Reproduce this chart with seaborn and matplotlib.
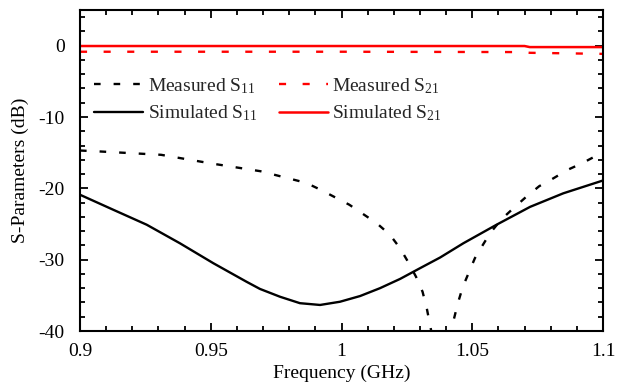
import matplotlib
matplotlib.use("Agg")
import matplotlib.pyplot as plt
import seaborn as sns
import pandas as pd
from matplotlib.ticker import MultipleLocator

# ---- data ----
sim_s11_freq = [0.900, 0.9127, 0.9255, 0.9382, 0.9510, 0.9637, 0.9688, 0.9765, 0.9841,
                0.9918, 0.9994, 1.0071, 1.0147, 1.0224, 1.0300, 1.0377, 1.0466, 1.0593,
                1.0721, 1.0848, 1.100]
sim_s11_db = [-20.9, -23.0, -25.1, -27.7, -30.5, -33.1, -34.1, -35.2, -36.1,
              -36.35, -35.9, -35.1, -34.0, -32.7, -31.2, -29.7, -27.7, -25.1,
              -22.6, -20.7, -18.9]

meas_s11_freq = [0.900, 0.906, 0.931, 0.950, 0.969, 0.984, 0.988, 0.992, 1.003, 1.0135,
                 1.0185, 1.0224, 1.0256, 1.0285, 1.031, 1.0326, 1.034, 1.038, 1.0426,
                 1.0445, 1.0464, 1.051, 1.0536, 1.0568, 1.061, 1.0657, 1.0706, 1.0756,
                 1.081, 1.0865, 1.0919, 1.0976, 1.100]
meas_s11_db = [-14.7, -14.8, -15.3, -16.5, -17.6, -19.0, -19.5, -20.2, -22.3, -24.9,
               -26.5, -28.4, -30.4, -32.4, -34.5, -36.8, -39.4, -47.0, -38.9,
               -36.1, -33.8, -29.8, -28.2, -26.3, -24.4, -22.8, -21.2, -19.7,
               -18.6, -17.4, -16.5, -15.4, -15.1]

meas_s21_freq = [0.900, 1.000, 1.070, 1.072, 1.100]
meas_s21_db = [-0.85, -0.85, -0.9, -1.0, -1.15]

sim_s21_freq = [0.900, 1.070, 1.072, 1.100]
sim_s21_db = [-0.05, -0.05, -0.2, -0.2]

labels = ["Measured S$_{\\mathregular{11}}$", "Simulated S$_{\\mathregular{11}}$",
          "Measured S$_{\\mathregular{21}}$", "Simulated S$_{\\mathregular{21}}$"]

# ---- style ----
sns.set_theme(style="ticks")
plt.rcParams["font.family"] = ["Liberation Serif", "DejaVu Serif"]
plt.rcParams["mathtext.fontset"] = "custom"
plt.rcParams["mathtext.rm"] = "Liberation Serif"
plt.rcParams["mathtext.it"] = "Liberation Serif:italic"

fig = plt.figure(figsize=(6.24, 3.83), dpi=100)
ax = fig.add_axes([80 / 624, 1 - 331 / 383, (603 - 80) / 624, (331 - 10) / 383])

def draw(freq, db, color, dashes, label, lw):
    df = pd.DataFrame({"f": freq, "db": db})
    sns.lineplot(data=df, x="f", y="db", ax=ax, color=color, linewidth=lw,
                 label=label, sort=False, estimator=None)
    line = ax.lines[-1]
    if dashes is not None:
        line.set_dashes(dashes)
    return line

l1 = draw(meas_s11_freq, meas_s11_db, "black", (2.8, 5.5), labels[0], 1.7)
l2 = draw(sim_s11_freq, sim_s11_db, "black", None, labels[1], 1.7)
l3 = draw(meas_s21_freq, meas_s21_db, "#ff0000", (3.0, 7.0), labels[2], 1.7)
l4 = draw(sim_s21_freq, sim_s21_db, "#ff0000", None, labels[3], 1.8)

ax.set_xlim(0.9, 1.1)
ax.set_ylim(-40, 5)
ax.xaxis.set_minor_locator(MultipleLocator(0.01))
ax.yaxis.set_minor_locator(MultipleLocator(2))
ax.set_xticks([0.9, 0.95, 1.0, 1.05, 1.1])
ax.set_xticklabels(["0.9", "0.95", "1", "1.05", "1.1"])
ax.set_yticks([-40, -30, -20, -10, 0])
ax.set_yticklabels(["-40", "-30", "-20", "-10", "0"])

ax.tick_params(which="both", direction="in", top=True, right=True, colors="black",
               labelsize=14, width=1.3)
ax.tick_params(which="major", length=6)
ax.tick_params(axis="x", which="major", pad=9)
ax.tick_params(axis="y", which="major", pad=11)
ax.tick_params(which="minor", length=3.5)
for s in ax.spines.values():
    s.set_visible(True)
    s.set_color("black")
    s.set_linewidth(1.5)

ax.set_xlabel("Frequency (GHz)", fontsize=14, labelpad=3, color="black")
ax.set_ylabel("S-Parameters (dB)", fontsize=14, labelpad=7, color="black")

ax.legend(handles=[l1, l2, l3, l4], labels=labels, ncol=2, frameon=False,
          fontsize=14, loc="upper left", bbox_to_anchor=(0.005, 0.83),
          handlelength=2.5, handletextpad=0.25, columnspacing=1.1,
          labelspacing=0.4, borderaxespad=0.2)

fig.savefig("out.png", dpi=100)
